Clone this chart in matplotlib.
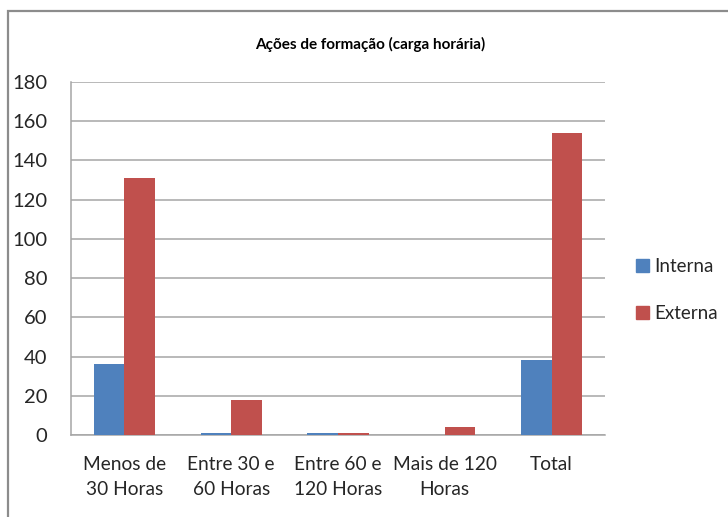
import matplotlib
matplotlib.use("Agg")
import matplotlib.pyplot as plt
from matplotlib.patches import Rectangle, Patch
import numpy as np

plt.rcParams['font.family'] = ['Lato', 'DejaVu Sans']

categories = ["Menos de\n30 Horas", "Entre 30 e\n60 Horas", "Entre 60 e\n120 Horas", "Mais de 120\nHoras", "Total"]
interna = [36, 1, 1, 0, 38]
externa = [131, 18, 1, 4, 154]
series_names = ["Interna", "Externa"]
colors = ["#4F81BD", "#C0504D"]
yticks = [0, 20, 40, 60, 80, 100, 120, 140, 160, 180]

W, H = 728, 517
fig = plt.figure(figsize=(W/100, H/100), dpi=100)

# outer chart border (right and bottom edges lie outside the image)
fig.patches.append(Rectangle((8/W, -0.5), 1.2, 1.5 - 11/H, transform=fig.transFigure,
                             fill=False, edgecolor="#8C8C8C", linewidth=1.6, zorder=0))

ax = fig.add_axes([71/W, 1 - 435/H, (605-71)/W, (435-82)/H])
x = np.arange(len(categories))
bw = 1/3.5
ax.bar(x - bw/2, interna, width=bw, color=colors[0], zorder=3)
ax.bar(x + bw/2, externa, width=bw, color=colors[1], zorder=3)

ax.set_xlim(-0.5, len(categories) - 0.5)
ax.set_ylim(0, 180)
ax.set_yticks(yticks)
ax.set_yticklabels([str(t) for t in yticks], fontsize=14.5, color="#262626")
ax.set_xticks(x)
ax.set_xticklabels(categories, fontsize=13.8, color="#262626", linespacing=1.6)
ax.tick_params(axis='x', length=0, pad=15)
ax.tick_params(axis='y', length=0, pad=17)
ax.yaxis.grid(True, color="#A6A6A6", linewidth=1.1, zorder=0)
for s in ["top", "right"]:
    ax.spines[s].set_visible(False)
for s in ["left", "bottom"]:
    ax.spines[s].set_color("#A6A6A6")
    ax.spines[s].set_linewidth(1.1)

fig.text(370/W, 1 - 44/H, "Ações de formação (carga horária)", ha="center", va="center",
         fontsize=11, fontweight="bold", color="#000000")

handles = [Patch(color=colors[0]), Patch(color=colors[1])]
fig.legend(handles, series_names, loc="center left", bbox_to_anchor=(636/W, 1 - 290/H),
           frameon=False, fontsize=13.5, handlelength=0.7, handleheight=0.7,
           handletextpad=0.3, labelspacing=1.6, labelcolor="#262626", borderpad=0,
           borderaxespad=0)

fig.savefig("out.png", dpi=100)
